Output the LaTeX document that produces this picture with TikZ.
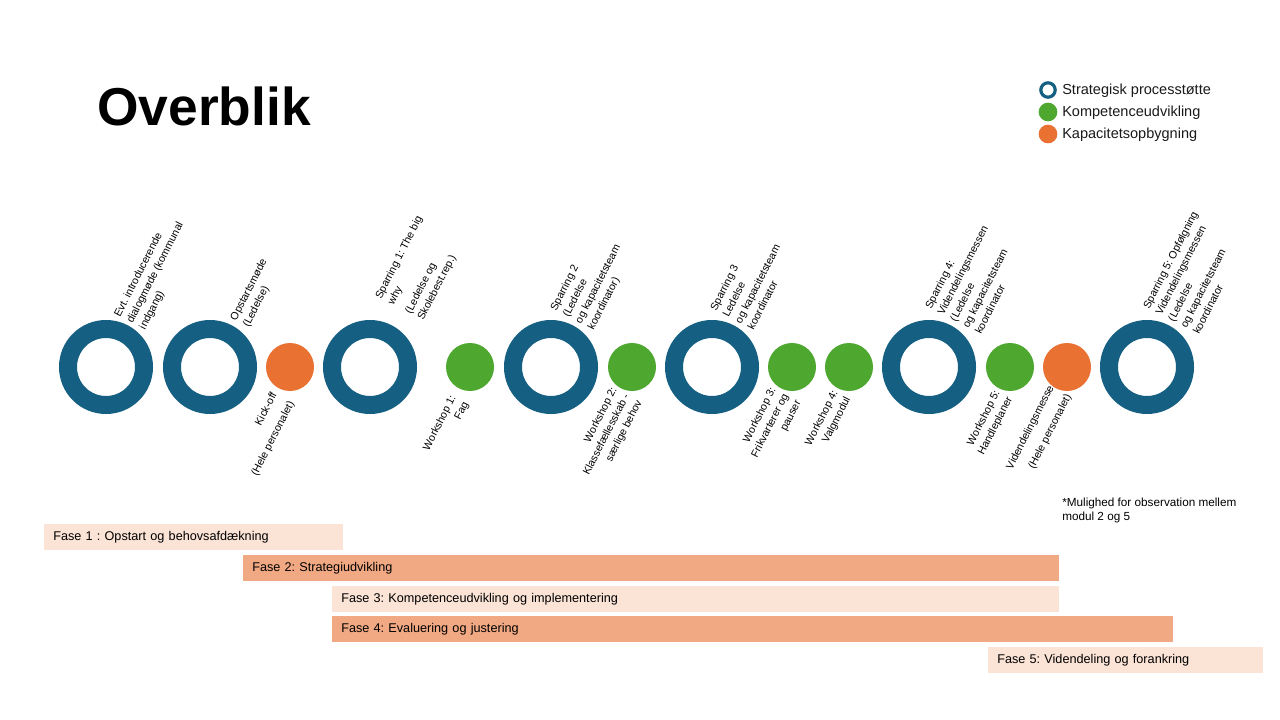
\documentclass[tikz,border=0pt]{standalone}
\usepackage{fontspec}
\setmainfont{Liberation Sans}
\usetikzlibrary{calc}
\definecolor{stratblue}{HTML}{156082}
\definecolor{kompgreen}{HTML}{4EA72E}
\definecolor{kaporange}{HTML}{E97132}
\definecolor{barlight}{HTML}{FBE3D6}
\definecolor{bardark}{HTML}{F1A983}
\definecolor{legendtext}{HTML}{1A1A1A}
\frenchspacing
\begin{document}
\begin{tikzpicture}[x=0.75pt,y=-0.75pt,
  ring/.style={circle,draw=stratblue,line width=13.5pt,minimum size=57pt,inner sep=0pt},
  gdot/.style={circle,fill=kompgreen,minimum size=36pt,inner sep=0pt},
  odot/.style={circle,fill=kaporange,minimum size=36pt,inner sep=0pt},
  uplabel/.style={rotate=63,anchor=north west,align=left,inner sep=0pt,font=\fontsize{8}{10.5}\selectfont\frenchspacing},
  downlabel/.style={rotate=63,anchor=north east,align=right,inner sep=0pt,font=\fontsize{8}{10.5}\selectfont\frenchspacing},
  phasebar/.style={anchor=north west,minimum height=19.5pt,inner xsep=6.75pt,inner ysep=0pt,align=left,font=\fontsize{9.5}{11}\selectfont\frenchspacing},
  lightbar/.style={phasebar,fill=barlight},
  darkbar/.style={phasebar,fill=bardark},
  legendlabel/.style={anchor=base west,inner sep=0pt,text=legendtext,font=\fontsize{10.9}{12}\selectfont}
]
\useasboundingbox (0,0) rectangle (1280,720);
\fill[white] (0,0) rectangle (1280,720);

% title
\node[anchor=base west,inner sep=0pt,font=\fontsize{40}{48}\selectfont\bfseries] (title) at (97,126) {Overblik};

% legend
\node[circle,draw=stratblue,line width=2.4pt,minimum size=10.8pt,inner sep=0pt] (lg1) at (1048,90) {};
\node[circle,fill=kompgreen,minimum size=14pt,inner sep=0pt] (lg2) at (1048,112) {};
\node[circle,fill=kaporange,minimum size=14pt,inner sep=0pt] (lg3) at (1048,134) {};
\node[legendlabel] (lt1) at (1062,95) {Strategisk processtøtte};
\node[legendlabel] (lt2) at (1062,117) {Kompetenceudvikling};
\node[legendlabel] (lt3) at (1062,139) {Kapacitetsopbygning};

% timeline
\node[ring] (s1) at (106,367) {};
\node[ring] (s2) at (210,367) {};
\node[odot] (o1) at (290,367) {};
\node[ring] (s3) at (370,367) {};
\node[gdot] (g1) at (470,367) {};
\node[ring] (s4) at (551,367) {};
\node[gdot] (g2) at (632,367) {};
\node[ring] (s5) at (712,367) {};
\node[gdot] (g3) at (792,367) {};
\node[gdot] (g4) at (849,367) {};
\node[ring] (s6) at (929,367) {};
\node[gdot] (g5) at (1010,367) {};
\node[odot] (o2) at (1067,367) {};
\node[ring] (s7) at (1147,367) {};

% labels above
\node[uplabel] (l1) at (113,314) {Evt. introducerende\\dialogmøde (kommunal\\indgang)};
\node[uplabel] (l2) at (229,318) {Opstartsmøde\\(Ledelse)};
\node[uplabel] (l3) at (374,296) {Sparring 1: The big\\why\\[4pt](Ledelse og\\Skolebest.rep.)};
\node[uplabel] (l4) at (549,308) {Sparring 2\\(Ledelse\\og kapacitetsteam\\koordinator)};
\node[uplabel] (l5) at (709,308) {Sparring 3\\Ledelse\\og kapacitetsteam\\koordinator};
\node[uplabel] (l6) at (924,306) {Sparring 4:\\Videndelingsmessen\\(Ledelse\\og kapacitetsteam\\koordinator};
\node[uplabel] (l7) at (1142,306) {Sparring 5: Opfølgning\\Videndelingsmessen\\(Ledelse\\og kapacitetsteam\\koordinator};

% labels below
\node[downlabel] (d1) at (270,391) {Kick-off\\[4pt](Hele personalet)};
\node[downlabel] (d2) at (449,394) {Workshop 1:\\Fag};
\node[downlabel] (d3) at (610,386) {Workshop 2:\\Klassefællesskab -\\særlige behov};
\node[downlabel] (d4) at (769,386) {Workshop 3:\\Frikvarterer og\\pauser};
\node[downlabel] (d5) at (831,389) {Workshop 4:\\Valgmodul};
\node[downlabel] (d6) at (993,389) {Workshop 5:\\Handleplaner};
\node[downlabel] (d7) at (1047,384) {Videndelingsmesse\\[4pt](Hele personalet)};

% footnote
\node[anchor=north west,align=left,inner sep=0pt,font=\fontsize{8.8}{10.5}\selectfont] (note) at (1062,498) {*Mulighed for observation mellem\\modul 2 og 5};

% phases
\node[lightbar,text width=210.75pt] (f1) at (44,524) {Fase 1 : Opstart og behovsafdækning};
\node[darkbar,text width=598.5pt] (f2) at (243,555) {Fase 2: Strategiudvikling};
\node[lightbar,text width=531.75pt] (f3) at (332,586) {Fase 3: Kompetenceudvikling og implementering};
\node[darkbar,text width=617.25pt] (f4) at (332,616) {Fase 4: Evaluering og justering};
\node[lightbar,text width=192.75pt] (f5) at (988,647) {Fase 5: Videndeling og forankring};
\end{tikzpicture}
\end{document}
